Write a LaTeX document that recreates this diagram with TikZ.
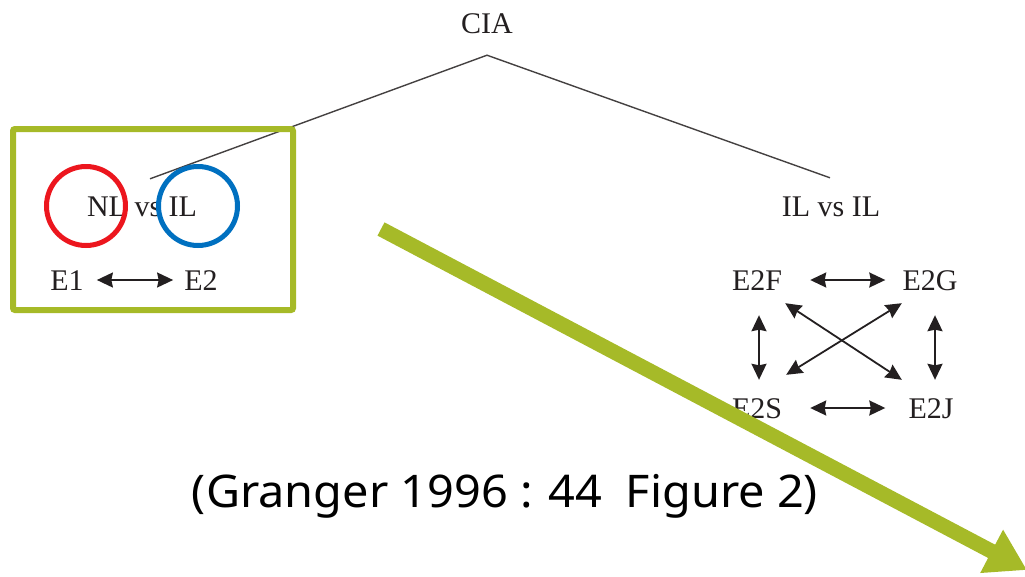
\documentclass[tikz,border=0pt]{standalone}
\usepackage{fontspec}
\usepackage{graphicx}
\setmainfont{Liberation Serif}
\newfontfamily\capfont{Noto Sans}
\usetikzlibrary{arrows.meta}
\definecolor{olivegreen}{RGB}{166,186,40}
\definecolor{circred}{RGB}{236,22,30}
\definecolor{circblue}{RGB}{0,112,192}
\definecolor{inkgray}{RGB}{35,31,32}
\tikzset{
  lbl/.style={inner sep=0pt, font=\fontsize{30}{32}\selectfont, text=inkgray, text height=20pt, text depth=0pt},
  treeline/.style={draw=inkgray!85, line width=1.4pt},
  dbl/.style={draw=inkgray, line width=1.8pt, {Stealth[length=16pt,width=15pt,inset=1.5pt]}-{Stealth[length=16pt,width=15pt,inset=1.5pt]}},
  greenbox/.style={draw=olivegreen, line width=6pt, rounded corners=2pt, inner sep=0pt},
  ring/.style={circle, draw, line width=5pt, minimum size=79pt, inner sep=0pt},
  bigarrow/.style={draw=olivegreen, line width=15pt, -{Triangle[length=40pt,width=46pt]}}
}
\begin{document}
\begin{tikzpicture}[x=1pt,y=-1pt]
\useasboundingbox (0,0) rectangle (1025,576);
\clip (0,0) rectangle (1025,576);
% tree
\node[lbl] (CIA) at (487,23) {CIA};
\node[lbl] (NL) at (142,206) {NL vs IL};
\node[lbl] (IL) at (831,206) {IL vs IL};
\coordinate (apex) at ([yshift=-22pt]CIA.south);
\coordinate (lend) at ([shift={(8,-17)}]NL.north);
\coordinate (rend) at ([shift={(-1,-18)}]IL.north);
\draw[treeline] (lend) -- (apex) -- (rend);
% left group
\node[lbl] (E1) at (67,280) {E1};
\node[lbl] (E2) at (201,280) {E2};
\draw[dbl, shorten <=13pt, shorten >=11pt] (E1.east) -- (E2.west);
% right group
\node[lbl] (E2F) at (757,280) {E2F};
\node[lbl] (E2G) at (930,280) {E2G};
\node[lbl] (E2S) at (757,408) {E2S};
\node[lbl] (E2J) at (931,408) {E2J};
\draw[dbl, shorten <=28pt, shorten >=17pt] (E2F.east) -- (E2G.west);
\draw[dbl, shorten <=28pt, shorten >=23pt] (E2S.east) -- (E2J.west);
\draw[dbl] ([shift={(2,25)}]E2F.south) -- ([shift={(2,-18)}]E2S.north);
\draw[dbl] ([shift={(5,25)}]E2G.south) -- ([shift={(4,-18)}]E2J.north);
\draw[dbl] ([shift={(3,13)}]E2F.south east) -- ([shift={(-6.5,-18)}]E2J.north west);
\draw[dbl] ([shift={(-0.5,13)}]E2G.south west) -- ([shift={(4,-23)}]E2S.north east);
% highlight box and rings
\node[greenbox, minimum width=280pt, minimum height=181pt] (box) at (153,219.5) {};
\node[ring, draw=circred] (redring) at (86,206) {};
\node[ring, draw=circblue] (bluering) at (198,206) {};
% caption
\node[inner sep=0pt, anchor=base, text=black] (cap) at (505,507)
  {\resizebox{626pt}{\height}{\capfont\fontsize{45}{50}\selectfont (Granger 1996 : 44\hspace{0.5em}Figure 2)}};
% big green arrow
\coordinate (gstart) at (381,229);
\coordinate (gend) at (1027,570);
\draw[bigarrow] (gstart) -- (gend);
\end{tikzpicture}
\end{document}
